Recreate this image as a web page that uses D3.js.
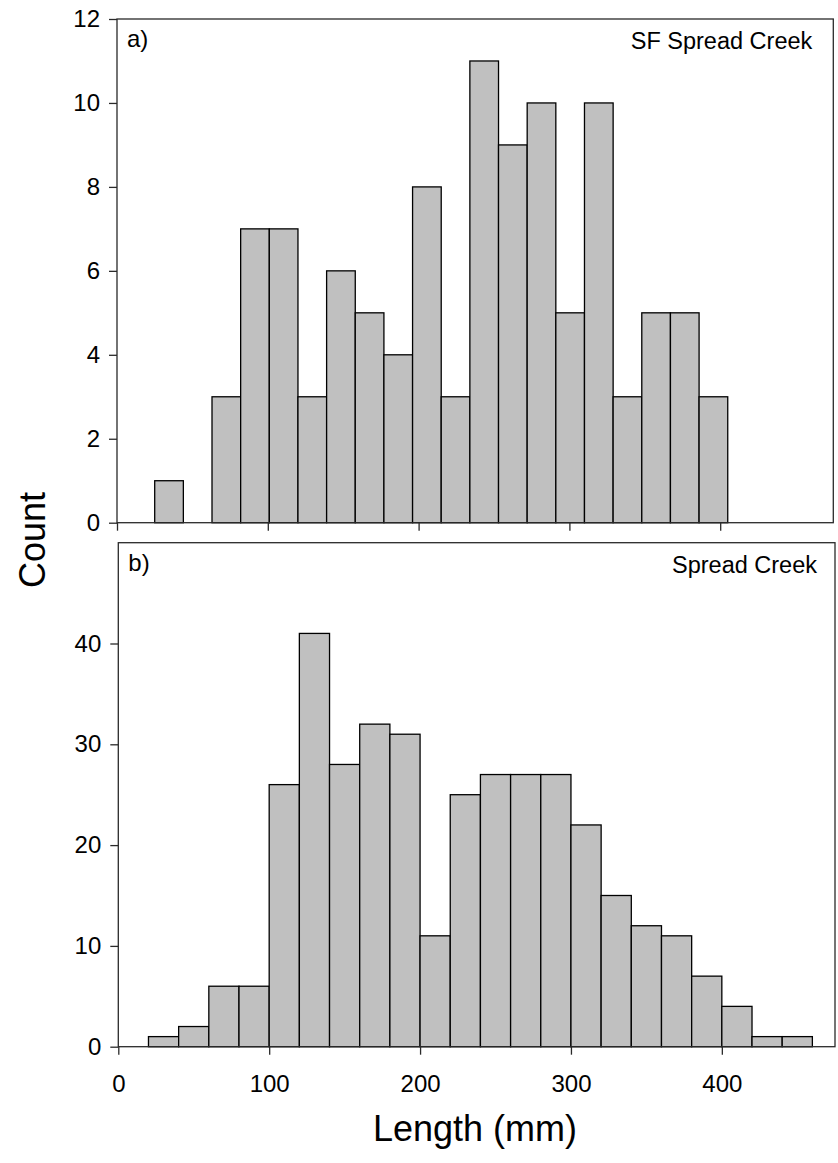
<!DOCTYPE html>
<html>
<head>
<meta charset="utf-8">
<script src="https://cdn.jsdelivr.net/npm/d3@7"></script>
<style>
  html, body { margin: 0; padding: 0; background: #fff; }
  svg { display: block; font-family: "Liberation Sans", Arial, sans-serif; }
</style>
</head>
<body>
<svg id="chart" width="838" height="1163"></svg>
<script>
// Length-frequency histograms for two creeks.

// Panel a) SF Spread Creek: bin edges (mm) and counts
const sfEdges = [25, 44, 63, 82, 101, 120, 139, 158, 177, 196, 215, 234, 253, 272, 291, 310, 329, 348, 367, 386, 405];
const sfCounts = [1, 0, 3, 7, 7, 3, 6, 5, 4, 8, 3, 11, 9, 10, 5, 10, 3, 5, 5, 3];

// Panel b) Spread Creek: bin edges (mm) and counts
const scEdges = [20, 40, 60, 80, 100, 120, 140, 160, 180, 200, 220, 240, 260, 280, 300, 320, 340, 360, 380, 400, 420, 440, 460];
const scCounts = [1, 2, 6, 6, 26, 41, 28, 32, 31, 11, 25, 27, 27, 27, 22, 15, 12, 11, 7, 4, 1, 1];

// Axis ticks
const xTicks = [0, 100, 200, 300, 400];
const sfYTicks = [0, 2, 4, 6, 8, 10, 12];
const scYTicks = [0, 10, 20, 30, 40];

const svg = d3.select("#chart");

function panel(opts) {
  const { left, right, top, bottom, yMax, yTicks, edges, counts, label, title, titleInset, showXLabels } = opts;
  const x = d3.scaleLinear().domain([0, 475]).range([left, right]);
  const y = d3.scaleLinear().domain([0, yMax]).range([bottom, top]);
  const g = svg.append("g");

  const bins = counts.map((c, i) => ({ x0: edges[i], x1: edges[i + 1], n: c })).filter(d => d.n > 0);

  g.selectAll("rect.bar").data(bins).join("rect")
    .attr("class", "bar")
    .attr("x", d => x(d.x0))
    .attr("width", d => x(d.x1) - x(d.x0))
    .attr("y", d => y(d.n))
    .attr("height", d => y(0) - y(d.n))
    .attr("fill", "#c0c0c0")
    .attr("stroke", "#000")
    .attr("stroke-width", 1.3);

  // frame around the plot area
  g.append("rect")
    .attr("x", left).attr("y", top)
    .attr("width", right - left).attr("height", bottom - top)
    .attr("fill", "none").attr("stroke", "#2a2a2a").attr("stroke-width", 1.3);

  const yAxis = d3.axisLeft(y).tickValues(yTicks).tickSize(8).tickPadding(9);
  const ya = g.append("g").attr("transform", `translate(${left},0)`).call(yAxis);
  const xAxis = d3.axisBottom(x).tickValues(xTicks).tickSize(8).tickPadding(20)
    .tickFormat(showXLabels ? d3.format("d") : () => "");
  const xa = g.append("g").attr("transform", `translate(0,${bottom})`).call(xAxis);

  [ya, xa].forEach(a => {
    a.select(".domain").remove();
    a.selectAll(".tick line").attr("stroke", "#2a2a2a").attr("stroke-width", 1.3);
    a.selectAll(".tick text").attr("fill", "#000").style("font-size", "24px");
  });

  g.append("text").attr("x", left + 10).attr("y", top + 28)
    .style("font-size", "24px").text(label);
  g.append("text").attr("x", right - titleInset).attr("y", top + 30)
    .attr("text-anchor", "end").style("font-size", "23.5px").text(title);
}

panel({ left: 117, right: 833.3, top: 19, bottom: 522.7, yMax: 12, yTicks: sfYTicks,
        edges: sfEdges, counts: sfCounts, label: "a)", title: "SF Spread Creek", titleInset: 21, showXLabels: false });
panel({ left: 118.3, right: 835, top: 542.7, bottom: 1046.7, yMax: 50, yTicks: scYTicks,
        edges: scEdges, counts: scCounts, label: "b)", title: "Spread Creek", titleInset: 18, showXLabels: true });

svg.append("text").attr("x", 475).attr("y", 1141)
  .attr("text-anchor", "middle").style("font-size", "36px").text("Length (mm)");
svg.append("text").attr("transform", "translate(45,540) rotate(-90)")
  .attr("text-anchor", "middle").style("font-size", "36px").text("Count");
</script>
</body>
</html>
